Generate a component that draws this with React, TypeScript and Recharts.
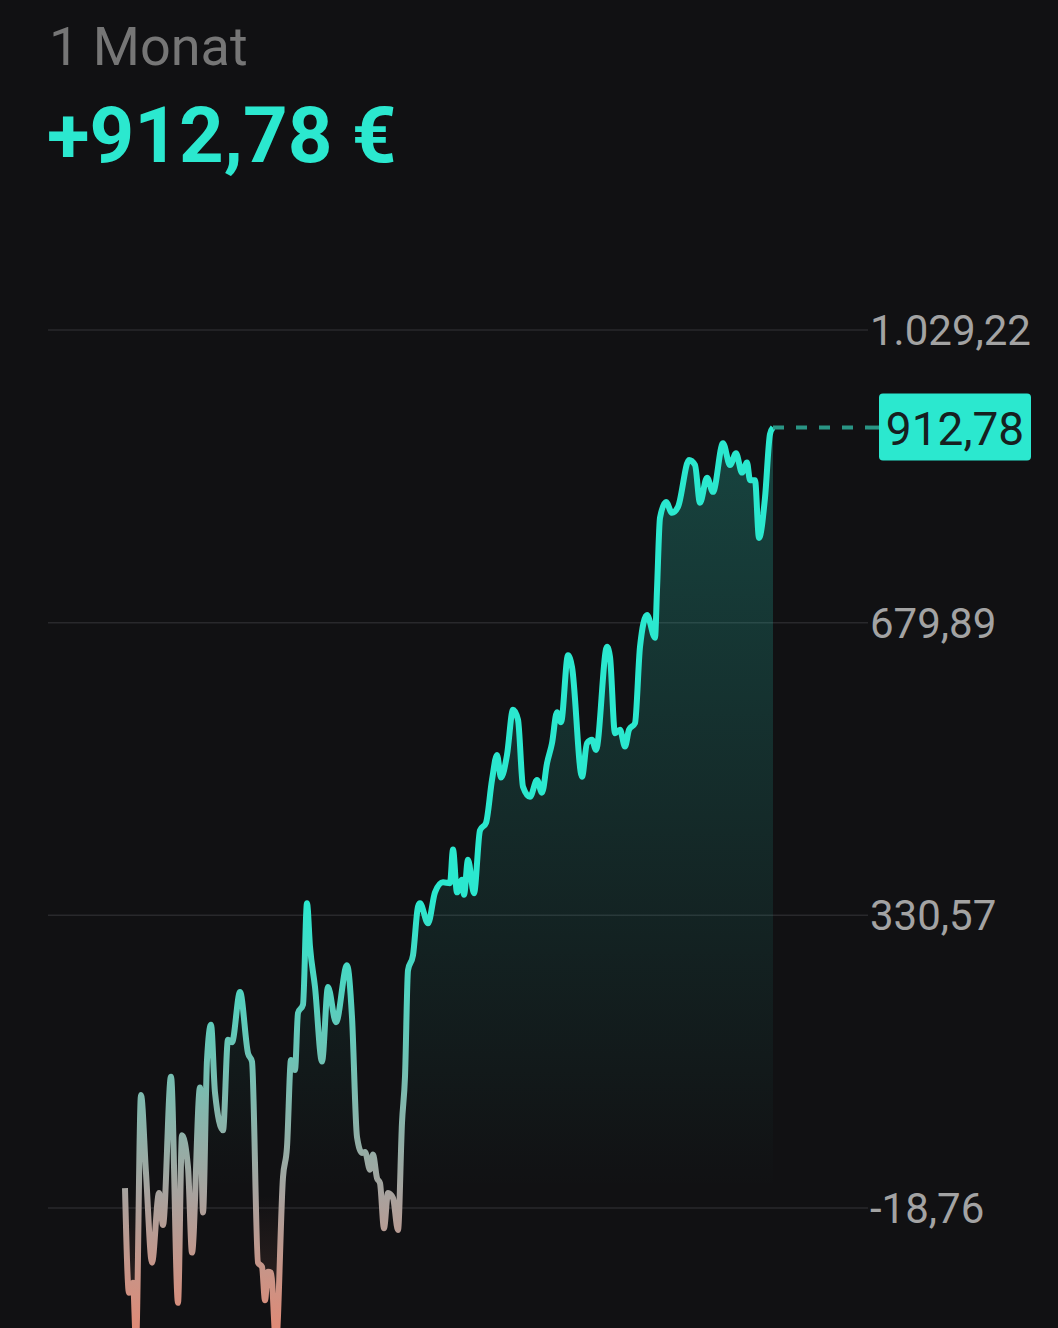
import React from 'react';
import { AreaChart, Area, XAxis, YAxis, CartesianGrid, ReferenceLine } from 'recharts';

// time position of each sample within the month view, and the P/L value in EUR
const times = [
  0, 4, 8, 11, 16, 21, 27, 34, 38, 46, 53, 57, 63, 67, 75, 78, 82, 86, 90, 98,
  103, 107, 115, 123, 127, 133, 137, 140, 143, 146, 151, 158, 162, 166, 170, 173, 178, 182, 185, 190,
  197, 203, 211, 222, 227, 232, 237, 240, 245, 248, 252, 255, 259, 263, 268, 273, 277, 280, 283, 288,
  293, 295, 303, 310, 318, 325, 328, 332, 337, 339, 343, 349, 355, 361, 367, 372, 376, 382, 388, 393,
  398, 405, 412, 417, 422, 427, 432, 436, 443, 447, 457, 462, 467, 471, 482, 485, 490, 495, 500, 504,
  510, 515, 522, 530, 532, 535, 541, 547, 553, 564, 570, 575, 582, 588, 598, 605, 611, 617, 622, 625,
  630, 634, 640, 645, 648,
];
const values = [
  5, -120, -108, -180, 116, 23, -84, -1, -39, 138, -132, 68, 30, -72, 125, -24, 158, 200, 119, 74,
  182, 179, 239, 166, 156, -84, -89, -129, -95, -96, -180, 18, 54, 158, 146, 214, 224, 345, 293, 245,
  156, 245, 203, 271, 209, 66, 47, 48, 27, 45, 17, 11, -43, -1, -7, -45, 83, 138, 265, 283,
  341, 345, 321, 358, 370, 369, 409, 358, 373, 355, 397, 357, 432, 441, 492, 522, 495, 522, 576, 564,
  484, 472, 492, 477, 512, 536, 573, 561, 641, 627, 496, 536, 540, 528, 651, 639, 548, 552, 532, 552,
  560, 651, 689, 662, 719, 805, 824, 811, 818, 874, 868, 823, 853, 836, 894, 868, 882, 859, 871, 850,
  850, 781, 829, 905, 912.78,
];
const yTicks = [-18.76, 330.57, 679.89, 1029.22];
const periodLabel = '1 Monat';
const lastValue = values[values.length - 1];
const lastTime = times[times.length - 1];

const data = times.map((t, i) => ({ t, v: values[i] }));

const fmt = (v: number) => {
  const [i, d] = Math.abs(v).toFixed(2).split('.');
  return (v < 0 ? '-' : '') + i.replace(/\B(?=(\d{3})+(?!\d))/g, '.') + ',' + d;
};

const TEAL = '#2be8cf';
const FONT = 'Roboto, "Noto Sans", sans-serif';

const Badge = (props: any) => {
  const vb = props.viewBox || {};
  const right = vb.x + vb.width;
  const y = vb.y;
  return (
    <g>
      <line x1={right} x2={879} y1={y} y2={y} stroke="#2a9585" strokeWidth={4} strokeDasharray="11 12" />
      <rect x={879} y={y - 34} width={152} height={67} rx={4} fill={TEAL} />
      <text x={955} y={y + 17} textAnchor="middle" fontSize={46} fontFamily={FONT} fill="#16201f">
        {fmt(lastValue)}
      </text>
    </g>
  );
};

export default function App() {
  return (
    <div style={{ position: 'fixed', left: 0, top: 0, width: 1058, height: 1328, background: '#111113', overflow: 'hidden' }}>
      <svg width={1058} height={200} style={{ position: 'absolute', left: 0, top: 0 }}>
        <text x={49} y={65} fontSize={54} fontFamily={FONT} fill="#767676">{periodLabel}</text>
        <text x={47} y={162} fontSize={78} fontWeight={700} fontFamily={FONT} fill={TEAL}>
          {'+' + fmt(lastValue) + ' €'}
        </text>
      </svg>
      <div style={{ position: 'absolute', left: 0, top: 0 }}>
        <AreaChart width={1058} height={1328} data={data} margin={{ top: 250, right: 0, bottom: 0, left: 48 }}>
          <defs>
            <linearGradient id="lineGrad" gradientUnits="userSpaceOnUse" x1={0} y1={900} x2={0} y2={1330}>
              <stop offset="0" stopColor={TEAL} />
              <stop offset="0.686" stopColor="#a8a29e" />
              <stop offset="1" stopColor="#e08a76" />
            </linearGradient>
            <linearGradient id="fillGrad" gradientUnits="userSpaceOnUse" x1={0} y1={420} x2={0} y2={1330}>
              <stop offset="0" stopColor={TEAL} stopOpacity={0.24} />
              <stop offset="0.846" stopColor={TEAL} stopOpacity={0} />
              <stop offset="0.852" stopColor="#e08a76" stopOpacity={0} />
              <stop offset="1" stopColor="#e08a76" stopOpacity={0.18} />
            </linearGradient>
          </defs>
          <CartesianGrid vertical={false} horizontalValues={yTicks} stroke="#29292c" strokeWidth={1.5} />
          <XAxis dataKey="t" type="number" domain={[-77, 743]} allowDataOverflow hide />
          <YAxis
            orientation="right"
            width={190}
            domain={[-162, 1124.7]}
            allowDataOverflow
            ticks={yTicks}
            interval={0}
            tickFormatter={fmt}
            axisLine={false}
            tickLine={false}
            tickSize={0}
            tickMargin={2}
            tick={{ fill: '#a3a3a3', fontSize: 42, fontFamily: FONT }}
          />
          <Area
            type="monotone"
            dataKey="v"
            baseValue={0}
            stroke="url(#lineGrad)"
            strokeWidth={6}
            strokeLinejoin="round"
            fill="url(#fillGrad)"
            fillOpacity={1}
            dot={false}
            activeDot={false}
            isAnimationActive={false}
          />
          <ReferenceLine
            segment={[{ x: lastTime, y: lastValue }, { x: 743, y: lastValue }]}
            stroke="#2a9585"
            strokeWidth={4}
            strokeDasharray="11 12"
            label={(p: any) => <Badge {...p} />}
          />
        </AreaChart>
      </div>
    </div>
  );
}
